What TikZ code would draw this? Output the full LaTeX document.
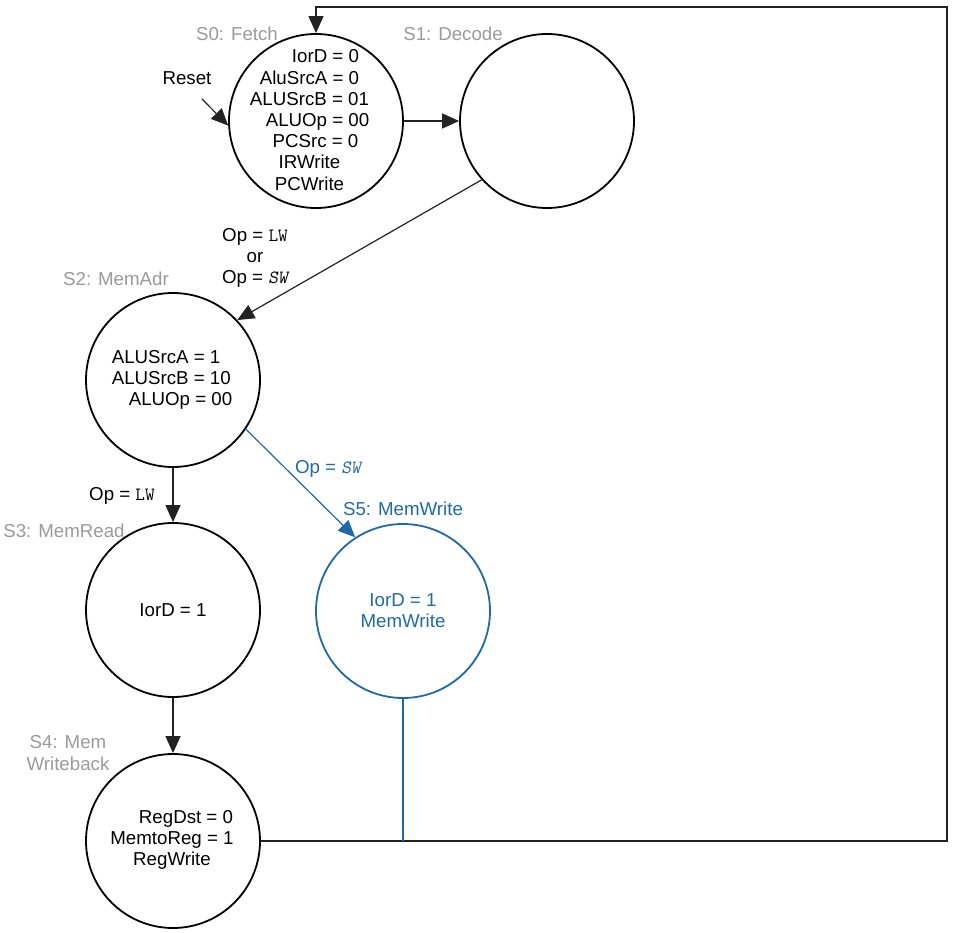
\documentclass[tikz,border=0pt]{standalone}
\usepackage{fontspec}
\setmainfont{Liberation Sans}
\usetikzlibrary{arrows.meta}
\definecolor{fsmblue}{HTML}{1E6AA8}
\definecolor{lblgray}{HTML}{9A9A9A}
\definecolor{wire}{HTML}{222222}
\begin{document}
\begin{tikzpicture}[x=1pt,y=-1pt,
  state/.style={circle,draw=black,line width=1.8pt,minimum size=174pt,inner sep=0pt},
  bluestate/.style={state,draw=fsmblue},
  txt/.style={font=\fontsize{18.7}{21.2}\selectfont,inner sep=0pt},
  glabel/.style={txt,text=lblgray},
  conn/.style={draw=wire,line width=1.2pt},
  arr/.style={conn,-{Triangle[length=17pt,width=15pt]}},
  bluearr/.style={arr,draw=fsmblue,fill=fsmblue},
]
\useasboundingbox (0,0) rectangle (953,933);
% states
\node[state] (S0) at (316,121) {};
\node[state] (S1) at (547,121) {};
\node[state] (S2) at (173,380) {};
\node[state] (S3) at (173,610) {};
\node[state] (S4) at (173,841) {};
\node[bluestate] (S5) at (403,611) {};
% state contents
\node[txt,align=center] (t0) at (309.5,120) {\hspace*{32pt}IorD = 0\\AluSrcA = 0\\ALUSrcB = 01\\\hspace*{16pt}ALUOp = 00\\\hspace*{12pt}PCSrc = 0\\IRWrite\\PCWrite};
\node[txt,align=left] (t2) at (172,380) {ALUSrcA = 1\\ALUSrcB = 10\\\hspace*{17pt}ALUOp = 00};
\node[txt] (t3) at (173,610) {IorD = 1};
\node[txt,align=center] (t4) at (172,840) {\hspace*{28pt}RegDst = 0\\MemtoReg = 1\\RegWrite};
\node[txt,align=center,text=fsmblue] (t5) at (403,611) {IorD = 1\\MemWrite};
% state names
\node[glabel] (n0) at (237,34) {S0: Fetch};
\node[glabel] (n1) at (453,34) {S1: Decode};
\node[glabel] (n2) at (116,279) {S2: MemAdr};
\node[glabel] (n3) at (64,531) {S3: MemRead};
\node[glabel,align=center] (n4) at (68,753) {S4: Mem\\Writeback};
\node[txt,text=fsmblue] (n5) at (403,509) {S5: MemWrite};
% reset
\node[txt] (reset) at (187,78) {Reset};
\coordinate (rs) at (202,99);
\draw[arr] (rs) -- (S0.183);
% transitions
\draw[arr] (S0.east) -- (S1.west);
\draw[arr] (S1.222) -- (S2.43);
\node[txt,align=center] (l12) at (255,258) {Op = {\ttfamily LW}\\or\\Op = {\ttfamily\slshape SW}};
\draw[arr] (S2.south) -- (S3.north);
\node[txt] (l23) at (122,496) {Op = {\ttfamily LW}};
\draw[bluearr] (S2.326) -- (S5.123);
\node[txt,text=fsmblue] (l25) at (328,469) {Op = {\ttfamily\slshape SW}};
\draw[arr] (S3.south) -- (S4.north);
% return path
\coordinate (c1) at (947,841);
\coordinate (c2) at (947,7);
\coordinate (c3) at (316,7);
\coordinate (j5) at (403,841);
\draw[arr] (S4.east) -- (c1) -- (c2) -- (c3) -- (S0.north);
\draw[draw=fsmblue,line width=1.2pt] (S5.south) -- (j5);
\end{tikzpicture}
\end{document}
